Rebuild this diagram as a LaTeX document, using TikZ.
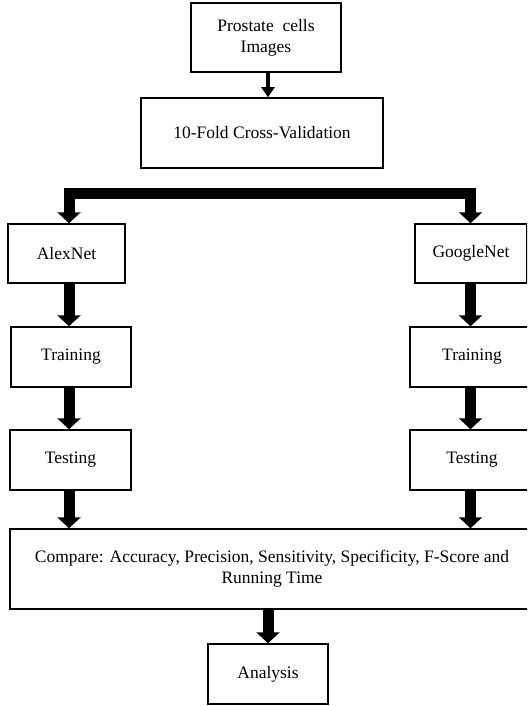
\documentclass[tikz,border=0pt]{standalone}
\usepackage{fontspec}
\setmainfont{Liberation Serif}
\usetikzlibrary{arrows.meta}

\begin{document}
\begin{tikzpicture}[x=1pt,y=-1pt,
        box/.style={rectangle,draw=black,line width=1.5pt,inner sep=0pt,align=center,font=\fontsize{17.5}{21}\selectfont},
        fat/.style={line width=11pt,line join=miter,-{Triangle[width=23pt,length=11pt]}},
        fork/.style={line width=11pt,line join=miter,{Triangle[width=23pt,length=11pt]}-{Triangle[width=23pt,length=11pt]}},
        slim/.style={line width=4.5pt,-{Triangle[width=13pt,length=10pt]}}]
            \useasboundingbox (0,0) rectangle (527,706);
            \clip (0,0) rectangle (527,706);
            \begin{scope}[every node/.style={box}]
                \node[minimum width=150,minimum height=69] (img) at (266,37.5) {Prostate\ \ cells\\Images};
                \node[minimum width=242,minimum height=70] (cv) at (262,133) {10-Fold Cross-Validation};
                \node[minimum width=117,minimum height=59] (alex) at (66.5,253.5) {AlexNet};
                \node[minimum width=112,minimum height=59] (google) at (471,253.5) {GoogleNet};
                \node[minimum width=120,minimum height=60] (train1) at (71,357) {Training};
                \node[minimum width=124,minimum height=60] (train2) at (472,357) {Training};
                \node[minimum width=121,minimum height=60] (test1) at (70.5,460) {Testing};
                \node[minimum width=124,minimum height=60] (test2) at (472,460) {Testing};
                \node[minimum width=524,minimum height=80] (cmp) at (272,569) {Compare: Accuracy, Precision, Sensitivity, Specificity, F-Score and\\Running Time};
                \node[minimum width=120,minimum height=60] (ana) at (268,674) {Analysis};
            \end{scope}
            \coordinate (lx) at (69,0);
            \coordinate (rx) at (470.5,0);
            \coordinate (mx) at (268,0);
            \coordinate (split) at (268,193);
            \draw[slim] (img.south -| mx) -- (cv.north -| mx);
            \draw[fork] (alex.north -| lx) |- (split) -| (google.north -| rx);
            \draw[fat] (alex.south -| lx) -- (train1.north -| lx);
            \draw[fat] (train1.south -| lx) -- (test1.north -| lx);
            \draw[fat] (test1.south -| lx) -- (cmp.north -| lx);
            \draw[fat] (google.south -| rx) -- (train2.north -| rx);
            \draw[fat] (train2.south -| rx) -- (test2.north -| rx);
            \draw[fat] (test2.south -| rx) -- (cmp.north -| rx);
            \draw[fat] (cmp.south -| mx) -- (ana.north -| mx);
        \end{tikzpicture}
\end{document}
